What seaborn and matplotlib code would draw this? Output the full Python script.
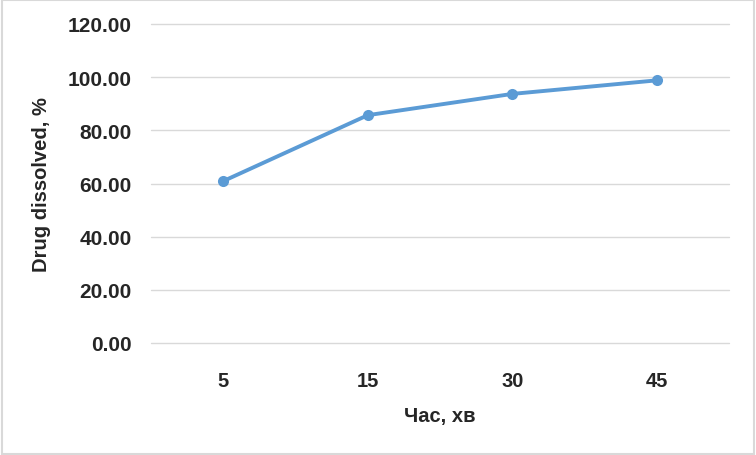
import matplotlib
matplotlib.use("Agg")
import matplotlib.pyplot as plt
import seaborn as sns
import pandas as pd
from matplotlib.patches import Rectangle

# dissolution profile
times = ["5", "15", "30", "45"]
dissolved = [60.9, 85.7, 93.7, 98.8]
y_ticks = [0, 20, 40, 60, 80, 100, 120]

df = pd.DataFrame({"time": times, "dissolved": dissolved})

sns.set_theme(style="white")
plt.rcParams["font.family"] = ["Liberation Sans", "DejaVu Sans"]

fig = plt.figure(figsize=(7.56, 4.56), dpi=100)
ax = fig.add_axes([151 / 756, 112 / 456, 578 / 756, 319 / 456])

sns.lineplot(data=df, x="time", y="dissolved", ax=ax, sort=False,
             color="#5B9BD5", linewidth=2.8, marker="o", markersize=8,
             markeredgewidth=0)

ax.set_ylim(0, 120)
ax.set_xlim(-0.5, 3.5)
ax.set_yticks(y_ticks)
ax.set_yticklabels([f"{v:.2f}" for v in y_ticks])
ax.yaxis.grid(True, color="#D9D9D9", linewidth=1)
for gl in ax.get_ygridlines():
    gl.set_clip_on(False)
ax.set_axisbelow(True)
for s in ax.spines.values():
    s.set_visible(False)

ax.tick_params(axis="y", length=0, pad=14, labelsize=15)
ax.tick_params(axis="x", length=0, pad=20, labelsize=14.5)
for lab in ax.get_xticklabels() + ax.get_yticklabels():
    lab.set_fontweight("bold")

ax.set_xlabel("Час, хв", fontsize=14.5, fontweight="bold", labelpad=12)
ax.set_ylabel("Drug dissolved, %", fontsize=14.5, fontweight="bold", labelpad=12)

fig.patches.append(Rectangle((0.002, 0.003), 0.995, 0.994, transform=fig.transFigure,
                             fill=False, edgecolor="#D9D9D9", linewidth=1.5))

fig.savefig("out.png", dpi=100)
